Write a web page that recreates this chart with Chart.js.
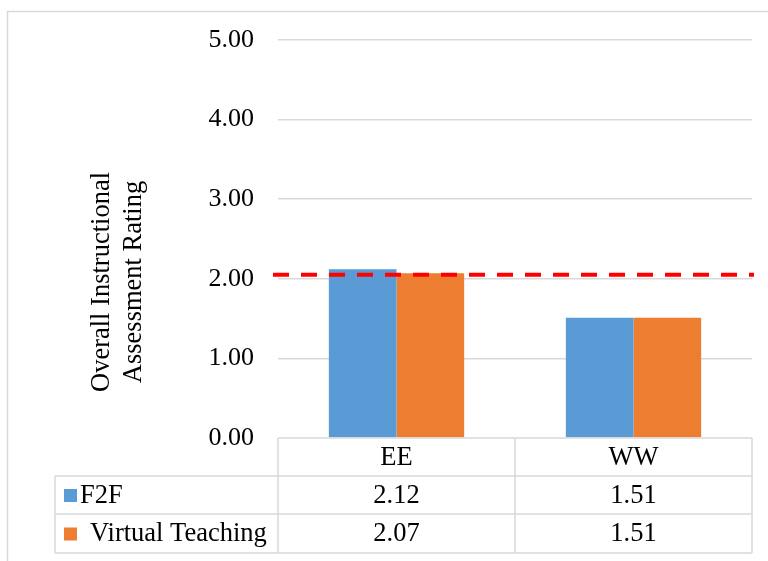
<!DOCTYPE html>
<html>
<head>
<meta charset="utf-8">
<script src="https://cdn.jsdelivr.net/npm/chart.js@4"></script>
<style>
  html, body { margin: 0; padding: 0; background: #fff; }
  #wrap { position: relative; width: 768px; height: 561px; }
</style>
</head>
<body>
<div id="wrap"><canvas id="chart" width="768" height="561"></canvas></div>
<script>
// Categories and series
const categories = ['EE', 'WW'];
const seriesNames = ['F2F', 'Virtual Teaching'];
const f2fValues = [2.12, 1.51];
const virtualValues = [2.07, 1.51];
const benchmark = 2.05;          // red dashed reference line
const yTitle = ['Overall Instructional', 'Assessment Rating'];

const FONT = '"Liberation Serif", "Times New Roman", serif';
const GRID = '#d9d9d9';
const colors = ['#5B9BD5', '#ED7D31'];

// draws the outer frame, the y title, the dashed line and the data table
const extrasPlugin = {
    id: 'extras',
    beforeDraw(chart) {
        const ctx = chart.ctx;
        ctx.save();
        ctx.strokeStyle = GRID;
        ctx.lineWidth = 1.5;
        ctx.beginPath();
        ctx.moveTo(7.5, 600);
        ctx.lineTo(7.5, 11.5);
        ctx.lineTo(800, 11.5);
        ctx.stroke();

        // y axis title, two lines
        ctx.fillStyle = '#000';
        ctx.font = '26.5px ' + FONT;
        ctx.textAlign = 'center';
        ctx.textBaseline = 'middle';
        ctx.translate(102, 282);
        ctx.rotate(-Math.PI / 2);
        yTitle.forEach((line, i) => ctx.fillText(line, 0, i * 32));
        ctx.restore();
    },
    afterDatasetsDraw(chart) {
        const ctx = chart.ctx;
        const { left, right, bottom } = chart.chartArea;
        const x = chart.scales.x;
        const y = chart.scales.y;

        // benchmark line
        const by = y.getPixelForValue(benchmark);
        ctx.save();
        ctx.strokeStyle = '#FF0000';
        ctx.lineWidth = 4;
        ctx.setLineDash([16, 12]);
        ctx.beginPath();
        ctx.moveTo(left - 5, by);
        ctx.lineTo(right + 2, by);
        ctx.stroke();
        ctx.restore();

        // data table
        const rowH = [38, 38, 39];
        const tableLeft = 55;
        const rows = [bottom, bottom + rowH[0], bottom + rowH[0] + rowH[1], bottom + rowH[0] + rowH[1] + rowH[2]];
        const mid = (x.getPixelForValue(0) + x.getPixelForValue(1)) / 2;

        ctx.save();
        ctx.strokeStyle = GRID;
        ctx.lineWidth = 1.5;
        ctx.beginPath();
        ctx.moveTo(left, rows[0]); ctx.lineTo(right, rows[0]);
        for (let i = 1; i < rows.length; i++) {
            ctx.moveTo(tableLeft, rows[i]); ctx.lineTo(right, rows[i]);
        }
        ctx.moveTo(tableLeft, rows[1]); ctx.lineTo(tableLeft, rows[3]);
        [left, mid, right].forEach(px => { ctx.moveTo(px, rows[0]); ctx.lineTo(px, rows[3]); });
        ctx.stroke();

        ctx.fillStyle = '#000';
        ctx.font = '26.5px ' + FONT;
        ctx.textBaseline = 'middle';
        ctx.textAlign = 'center';
        categories.forEach((c, i) => {
            ctx.fillText(c, x.getPixelForValue(i), (rows[0] + rows[1]) / 2 + 1);
        });
        const series = [f2fValues, virtualValues];
        series.forEach((vals, r) => {
            const cy = (rows[r + 1] + rows[r + 2]) / 2 + 1;
            ctx.textAlign = 'center';
            vals.forEach((v, i) => ctx.fillText(v.toFixed(2), x.getPixelForValue(i), cy));
            ctx.fillStyle = colors[r];
            ctx.fillRect(64, cy - 7, 13, 13);
            ctx.fillStyle = '#000';
            ctx.textAlign = 'left';
            ctx.fillText(seriesNames[r], r === 0 ? 80 : 90, cy);
        });
        ctx.restore();
    }
};

new Chart(document.getElementById('chart'), {
    type: 'bar',
    data: {
        labels: categories,
        datasets: [
            { label: seriesNames[0], data: f2fValues, backgroundColor: colors[0] },
            { label: seriesNames[1], data: virtualValues, backgroundColor: colors[1] }
        ]
    },
    options: {
        responsive: false,
        animation: false,
        events: [],
        layout: { padding: { top: 40, bottom: 123, left: 0, right: 16 } },
        datasets: { bar: { categoryPercentage: 0.571, barPercentage: 1 } },
        plugins: { legend: { display: false }, tooltip: { enabled: false } },
        scales: {
            x: { display: false },
            y: {
                min: 0,
                max: 5,
                afterFit: (scale) => { scale.width = 278; },
                border: { display: false },
                grid: {
                    color: (c) => c.tick.value === 0 ? 'rgba(0,0,0,0)' : GRID,
                    lineWidth: 1.5,
                    drawTicks: false
                },
                ticks: {
                    stepSize: 1,
                    padding: 24,
                    color: '#000',
                    font: { family: FONT, size: 26 },
                    callback: (v) => v.toFixed(2)
                }
            }
        }
    },
    plugins: [extrasPlugin]
});
</script>
</body>
</html>
